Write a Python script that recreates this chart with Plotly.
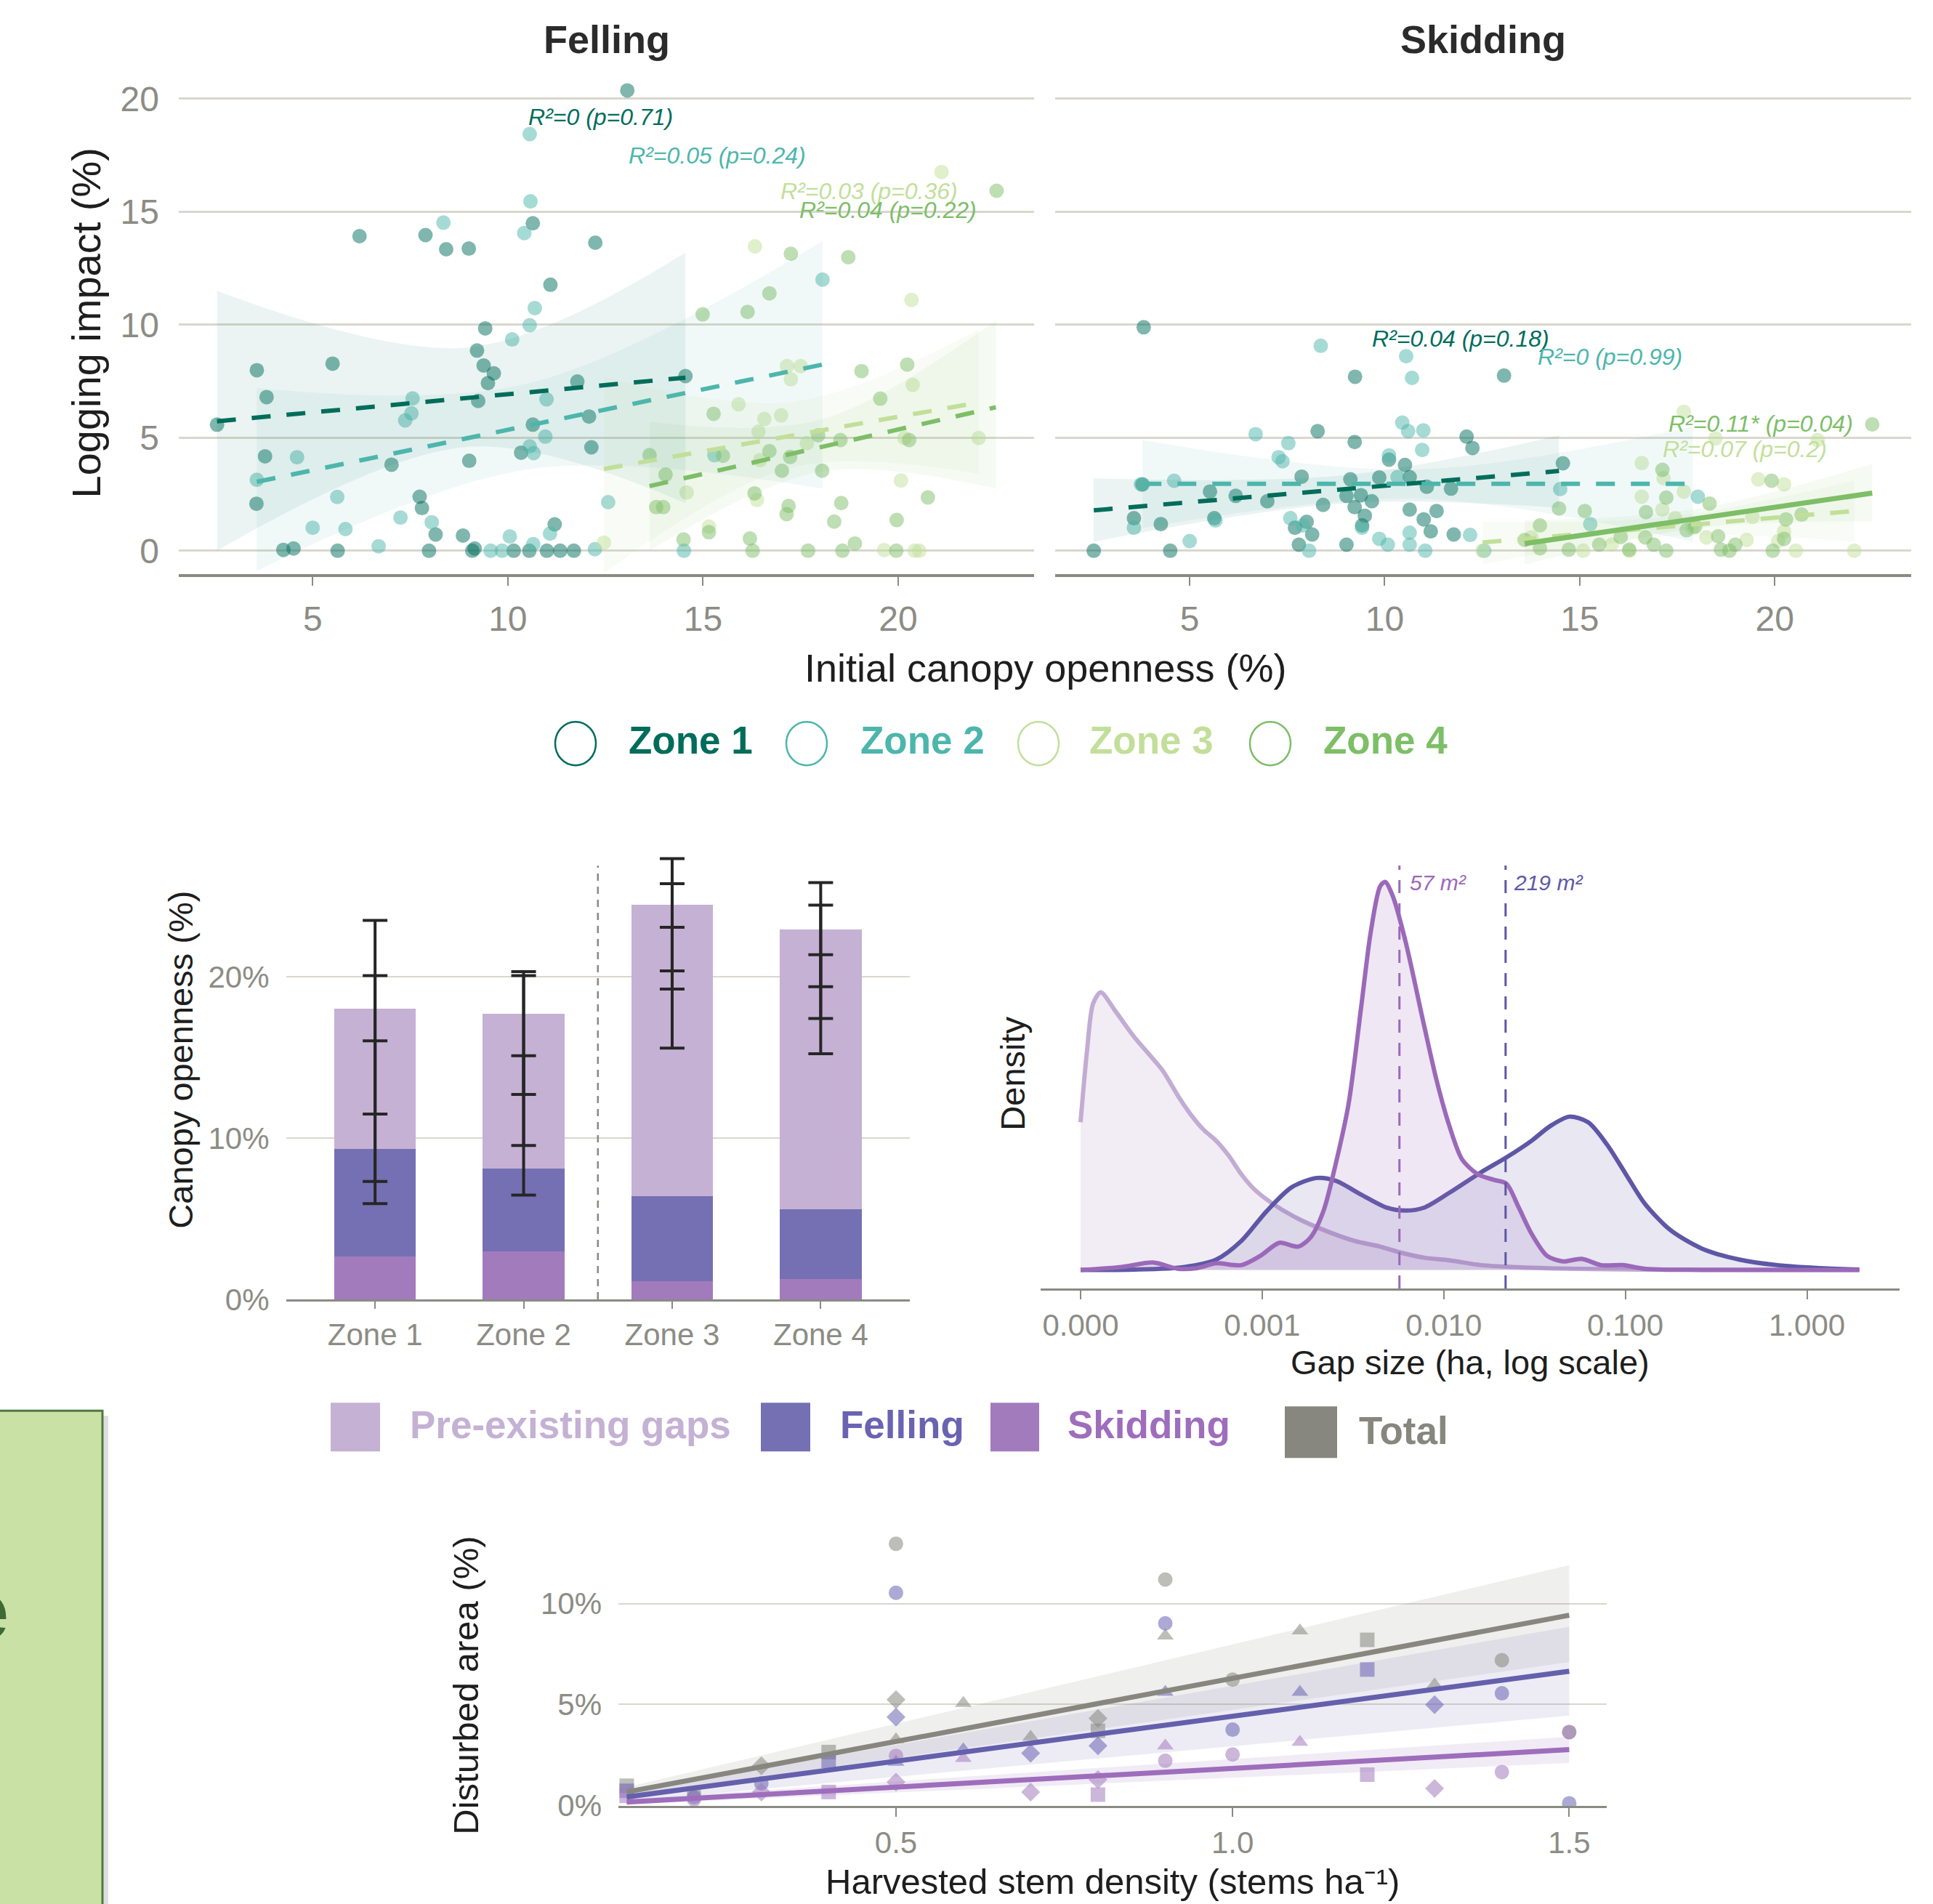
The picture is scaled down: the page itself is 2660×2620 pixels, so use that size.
import plotly.graph_objects as go

# ---------------- DATA ----------------
zone_names = ["Zone 1", "Zone 2", "Zone 3", "Zone 4"]

# Felling panel: initial canopy openness (%) vs logging impact (%)
fell_z1_x = [13.06, 6.2, 7.89, 8.42, 9.0, 10.64, 12.24, 11.09, 9.42, 9.21, 9.38, 9.64, 9.49, 9.24, 11.78, 14.55, 2.55, 3.57, 3.82, 5.51, 10.64, 12.08, 3.78, 7.02, 9.01, 10.34, 12.14, 3.56, 7.74, 7.8, 8.15, 8.85, 11.2, 4.25, 4.51, 5.64, 7.98, 9.09, 9.15, 10.15, 10.55, 11.0, 11.34, 11.69]
fell_z1_y = [20.37, 13.92, 13.97, 13.34, 13.37, 14.49, 13.63, 11.77, 9.84, 8.86, 8.2, 7.85, 7.42, 6.63, 7.49, 7.73, 5.58, 7.99, 6.8, 8.28, 5.58, 5.94, 4.18, 3.81, 3.98, 4.34, 4.58, 2.08, 2.39, 1.89, 0.72, 0.67, 1.17, 0.04, 0.1, 0.0, 0.0, 0.0, 0.1, 0.0, 0.0, 0.0, 0.0, 0.0]
fell_z2_x = [10.56, 10.58, 10.42, 8.35, 10.69, 10.56, 10.11, 7.56, 7.53, 7.37, 10.99, 10.96, 10.56, 10.66, 11.08, 10.05, 4.6, 3.57, 5.63, 5.84, 5.0, 7.25, 8.05, 6.69, 9.56, 9.85, 10.65, 12.57, 12.23, 18.06, 15.29, 14.51]
fell_z2_y = [18.44, 15.46, 14.06, 14.52, 10.74, 9.98, 9.35, 6.74, 6.08, 5.77, 6.7, 5.05, 4.62, 4.32, 0.76, 0.63, 4.14, 3.14, 2.38, 0.96, 1.02, 1.47, 1.26, 0.2, 0.0, 0.0, 0.29, 2.15, 0.07, 12.0, 4.23, 0.0]
fell_z3_x = [21.11, 16.33, 20.34, 17.15, 17.5, 17.25, 15.91, 20.37, 17.0, 16.57, 16.42, 17.66, 16.46, 14.58, 16.38, 20.07, 15.15, 22.06, 19.64, 20.54, 20.42, 12.46, 20.16]
fell_z3_y = [16.76, 13.47, 11.1, 8.17, 8.17, 7.59, 6.48, 7.34, 5.99, 5.83, 5.27, 4.76, 4.01, 2.58, 2.25, 3.11, 1.07, 4.99, 0.03, 0.0, 0.0, 0.36, 4.99]
fell_z4_x = [22.52, 17.25, 18.72, 16.7, 14.99, 16.14, 19.06, 20.23, 19.54, 15.27, 16.7, 17.23, 15.51, 14.04, 17.95, 18.52, 20.28, 17.02, 18.05, 16.32, 20.76, 17.19, 17.14, 18.54, 18.36, 19.96, 14.5, 15.15, 16.2, 16.27, 17.69, 18.57, 18.89, 19.95, 13.63, 13.8, 13.98]
fell_z4_y = [15.93, 13.14, 12.99, 11.39, 10.46, 10.57, 7.95, 8.24, 6.73, 6.06, 4.41, 4.15, 4.2, 3.37, 5.11, 4.9, 4.9, 3.54, 3.54, 2.54, 2.36, 1.98, 1.62, 2.11, 1.29, 1.36, 0.5, 0.82, 0.54, 0.0, 0.0, 0.0, 0.32, 0.0, 4.23, 1.93, 1.93]

# Skidding panel
skid_z1_x = [3.82, 9.24, 13.06, 8.28, 9.23, 12.1, 12.25, 14.57, 3.79, 5.52, 6.18, 6.99, 7.87, 9.12, 9.02, 9.39, 9.67, 9.86, 10.11, 10.52, 10.64, 11.08, 11.7, 8.42, 9.23, 9.49, 9.42, 10.64, 11.0, 11.33, 11.18, 11.77, 7.7, 8.0, 8.14, 7.8, 9.02, 3.57, 4.26, 5.63, 2.54, 4.5]
skid_z1_y = [9.89, 7.7, 7.75, 5.29, 4.81, 5.05, 4.55, 3.87, 2.94, 2.62, 2.43, 2.19, 3.28, 3.16, 2.43, 2.46, 2.19, 3.24, 4.03, 3.8, 3.26, 2.83, 2.75, 2.03, 1.93, 1.55, 1.12, 1.82, 1.39, 1.76, 0.86, 0.72, 1.02, 1.28, 0.72, 0.27, 0.27, 1.44, 1.18, 1.44, 0.0, 0.0]
skid_z2_x = [8.36, 10.55, 10.7, 6.69, 7.53, 7.28, 7.38, 10.45, 10.6, 10.99, 10.96, 10.11, 4.6, 3.75, 10.33, 14.5, 18.03, 5.0, 5.66, 3.57, 7.58, 7.9, 9.42, 9.86, 10.08, 10.64, 10.64, 8.06, 11.04, 12.19, 12.55, 15.27]
skid_z2_y = [9.07, 8.61, 7.65, 5.16, 4.76, 4.14, 3.96, 5.67, 5.29, 5.33, 4.46, 4.22, 3.1, 2.94, 3.26, 2.73, 2.39, 0.43, 1.34, 1.02, 1.44, 1.12, 1.02, 0.53, 0.27, 0.8, 0.27, 0.0, 0.0, 0.7, 0.0, 1.18]
skid_z3_x = [17.67, 18.48, 21.1, 16.59, 19.58, 20.24, 17.15, 17.67, 16.59, 17.12, 17.45, 19.43, 22.04, 20.24, 20.09, 15.82, 15.09, 12.51, 13.76, 16.27, 17.89, 20.54, 19.28, 18.25]
skid_z3_y = [6.15, 4.97, 4.9, 3.88, 3.16, 2.94, 3.21, 2.62, 2.39, 1.82, 1.44, 1.5, 0.0, 0.86, 0.43, 0.27, 0.0, 0.0, 0.59, 0.0, 1.02, 0.0, 0.48, 0.59]
skid_z4_x = [22.5, 17.12, 17.22, 18.33, 19.92, 14.47, 15.13, 16.7, 17.96, 20.69, 20.29, 13.98, 13.59, 13.98, 14.72, 15.5, 16.05, 16.27, 16.68, 16.9, 17.22, 17.74, 18.55, 18.62, 18.99, 19.95, 20.24, 18.84]
skid_z4_y = [5.59, 3.58, 2.35, 2.09, 3.1, 1.87, 1.76, 1.71, 1.07, 1.6, 1.39, 1.12, 0.48, 0.11, 0.05, 0.27, 0.61, 0.05, 0.59, 0.27, 0.0, 0.91, 0.64, 0.05, 0.27, 0.0, 0.53, 0.0]

# Fitted lines (endpoints) and CI ribbons (x, lower, upper)
fell_fit_x = [[2.55, 14.55], [3.57, 18.06], [12.46, 22.06], [13.63, 22.5]]
fell_fit_y = [[5.73, 7.66], [3.05, 8.24], [3.62, 6.56], [2.86, 6.35]]
fell_ci_x = [[2.55, 9.0, 14.55], [3.57, 10.5, 18.06], [12.46, 17.3, 22.06], [13.63, 18.0, 22.5]]
fell_ci_lo = [[0.0, 4.6, 2.1], [-0.9, 3.6, 2.75], [-1.0, 3.7, 3.4], [0.0, 3.5, 2.75]]
fell_ci_hi = [[11.5, 9.0, 13.2], [7.2, 7.4, 13.7], [7.7, 6.6, 9.8], [5.7, 5.8, 10.2]]
skid_fit_x = [[2.54, 14.47], [3.79, 17.9], [12.51, 22.04], [13.59, 22.5]]
skid_fit_y = [[1.79, 3.53], [2.96, 2.96], [0.37, 1.76], [0.32, 2.55]]
skid_ci_x = [[2.54, 9.0, 14.47], [3.79, 10.8, 17.9], [12.51, 17.3, 22.04], [13.59, 18.0, 22.5]]
skid_ci_lo = [[0.4, 2.1, 1.9], [1.0, 2.3, 0.4], [-0.6, 0.65, 0.4], [-0.6, 1.0, 1.3]]
skid_ci_hi = [[3.2, 3.35, 5.1], [4.9, 3.6, 5.5], [1.3, 1.5, 3.1], [1.34, 1.85, 3.85]]
fell_labels = ["R²=0 (p=0.71)", "R²=0.05 (p=0.24)", "R²=0.03 (p=0.36)", "R²=0.04 (p=0.22)"]
skid_labels = ["R²=0.04 (p=0.18)", "R²=0 (p=0.99)", "R²=0.07 (p=0.2)", "R²=0.11* (p=0.04)"]
fell_label_xy = [(12.37, 19.19), (15.37, 17.48), (19.26, 15.9), (19.73, 15.09)]
skid_label_xy = [(11.95, 9.39), (15.78, 8.58), (19.23, 4.5), (19.64, 5.63)]
skid_significant = [False, False, False, True]

# Bar chart: canopy openness (%) by zone
bar_skidding = [2.66, 2.96, 1.13, 1.28]
bar_felling = [6.66, 5.16, 5.29, 4.31]
bar_preexisting = [8.73, 9.62, 18.04, 17.34]
err_outer_lo = [5.94, 6.47, 15.59, 15.24]
err_outer_hi = [23.51, 20.33, 27.34, 25.86]
err_mid_lo = [7.32, 9.55, 19.25, 17.42]
err_mid_hi = [20.08, 20.08, 25.79, 24.46]
err_inner_lo = [11.50, 12.71, 20.38, 19.40]
err_inner_hi = [16.04, 15.11, 23.08, 21.38]

# Gap-size density curves (log10 gap size in ha, density)
pre_log = [-4.0, -3.965, -3.931, -3.889, -3.809, -3.705, -3.635, -3.549, -3.462, -3.392, -3.323, -3.253, -3.184, -3.115, -3.045, -2.941, -2.802, -2.663, -2.49, -2.351, -2.247, -2.108, -1.969, -1.795, -1.622, -1.274, -0.927, 0.288]
pre_dens = [3.98, 5.88, 7.18, 7.48, 6.98, 6.28, 5.88, 5.38, 4.68, 4.18, 3.78, 3.48, 3.08, 2.58, 2.18, 1.78, 1.38, 1.08, 0.78, 0.63, 0.48, 0.33, 0.26, 0.13, 0.08, 0.03, 0.01, 0.0]
fel_log = [-4.0, -3.705, -3.427, -3.253, -3.115, -2.976, -2.837, -2.698, -2.594, -2.455, -2.316, -2.212, -2.108, -1.969, -1.795, -1.656, -1.517, -1.413, -1.309, -1.205, -1.101, -0.997, -0.892, -0.753, -0.58, -0.372, -0.163, 0.115, 0.288]
fel_dens = [0.0, 0.01, 0.08, 0.28, 0.78, 1.58, 2.23, 2.48, 2.4, 2.03, 1.68, 1.6, 1.68, 2.08, 2.63, 3.03, 3.48, 3.88, 4.13, 3.98, 3.38, 2.58, 1.78, 1.08, 0.58, 0.28, 0.13, 0.04, 0.01]
ski_log = [-4.0, -3.774, -3.601, -3.462, -3.358, -3.253, -3.115, -3.01, -2.906, -2.802, -2.733, -2.663, -2.594, -2.524, -2.455, -2.403, -2.351, -2.323, -2.281, -2.212, -2.108, -2.038, -1.969, -1.899, -1.813, -1.726, -1.656, -1.587, -1.517, -1.431, -1.344, -1.24, -1.135, -1.014, -0.892, -0.58, 0.288]
ski_dens = [0.0, 0.08, 0.2, 0.03, 0.05, 0.18, 0.13, 0.38, 0.73, 0.63, 0.88, 1.58, 2.88, 4.48, 7.08, 9.08, 10.33, 10.46, 10.08, 8.88, 6.58, 5.08, 3.88, 2.98, 2.58, 2.43, 2.33, 1.68, 0.98, 0.38, 0.23, 0.3, 0.13, 0.13, 0.03, 0.0, 0.0]
median_skidding_ha = 0.0057
median_felling_ha = 0.0219
median_labels = ["57 m²", "219 m²"]

# Disturbed area vs harvested stem density
tot_x = [0.5, 0.9, 0.9, 1.1, 1.2, 1.4, 1.0, 1.3, 0.5, 0.6, 0.8, 0.8, 0.5, 0.7, 0.4, 0.3, 0.2, 0.1, 1.5]
tot_y = [12.96, 11.19, 8.4, 8.65, 8.2, 7.19, 6.23, 5.98, 5.24, 5.06, 4.31, 3.69, 3.26, 3.38, 2.64, 1.96, 0.6, 0.97, 3.63]
tot_site = ["A", "A", "B", "B", "C", "A", "A", "B", "D", "B", "D", "C", "B", "B", "C", "D", "A", "C", "A"]
fel_x = [0.5, 0.9, 0.9, 1.1, 1.2, 1.4, 1.3, 0.5, 1.0, 0.8, 0.7, 0.6, 0.5, 0.4, 0.3, 0.2, 0.1, 1.5]
fel_y = [10.53, 9.02, 5.61, 5.61, 6.73, 5.55, 4.99, 4.37, 3.75, 2.95, 2.58, 2.76, 2.14, 2.2, 1.09, 0.4, 0.72, 0.1]
fel_site = ["A", "A", "B", "B", "C", "A", "D", "D", "A", "D", "D", "B", "B", "C", "A", "A", "C", "A"]
ski_x = [0.9, 1.1, 1.0, 0.9, 1.4, 1.2, 0.5, 0.5, 0.6, 0.8, 0.7, 0.8, 1.3, 0.4, 0.3, 0.2, 0.1, 1.5]
ski_y = [2.95, 3.13, 2.52, 2.21, 1.65, 1.52, 1.15, 2.45, 2.33, 1.28, 0.66, 0.53, 0.84, 0.66, 0.66, 0.3, 0.47, 3.63]
ski_site = ["B", "B", "A", "A", "A", "C", "D", "A", "B", "D", "D", "C", "D", "C", "D", "A", "C", "A"]
dist_fit_x = [0.1, 1.5]
tot_fit = [0.66, 9.42]
fel_fit = [0.41, 6.64]
ski_fit = [0.16, 2.76]
tot_ci_lo, tot_ci_hi = [0.45, 7.1], [0.9, 11.9]
fel_ci_lo, fel_ci_hi = [0.2, 4.45], [0.65, 8.85]
ski_ci_lo, ski_ci_hi = [0.05, 2.1], [0.3, 3.4]

# ---------------- STYLE ----------------
REF_W, REF_H = 2660, 2620
FIG_W, FIG_H = 2660, 2647      # page is photographed slightly taller than the window, then fitted
def px(x): return x / REF_W
def py(y): return 1 - y / REF_H

FONT = "Liberation Sans, Arial, sans-serif"
TICK_GRAY = "#8C8C85"
AXIS_GRAY = "#8A8A84"
GRID = "#D9D7CE"
DARK = "#1E1E1E"
zone_colors = ["#006D5B", "#4DB6AC", "#C2DF9A", "#7DBE67"]
band_alpha = [0.08, 0.08, 0.09, 0.08]
c_pre, c_fel, c_ski, c_tot = "#C5B1D4", "#7570B3", "#A27BBD", "#87877F"
d_pre, d_fel, d_ski = "#C3ACD3", "#5E57A6", "#9B69B9"
sym = {"A": "circle", "B": "triangle-up", "C": "square", "D": "diamond"}

def rgba(hexc, a):
    h = hexc.lstrip("#")
    r, g, b = int(h[0:2], 16), int(h[2:4], 16), int(h[4:6], 16)
    return f"rgba({r},{g},{b},{a})"

fig = go.Figure()

# ---------------- TOP PANELS ----------------
panels = [
    ("x", "y", [(fell_z1_x, fell_z1_y), (fell_z2_x, fell_z2_y), (fell_z3_x, fell_z3_y), (fell_z4_x, fell_z4_y)],
     fell_fit_x, fell_fit_y, fell_ci_x, fell_ci_lo, fell_ci_hi, [False] * 4),
    ("x2", "y2", [(skid_z1_x, skid_z1_y), (skid_z2_x, skid_z2_y), (skid_z3_x, skid_z3_y), (skid_z4_x, skid_z4_y)],
     skid_fit_x, skid_fit_y, skid_ci_x, skid_ci_lo, skid_ci_hi, skid_significant),
]
for xa, ya, pts, fx, fy, cx, clo, chi, sig in panels:
    for i, (xs, ys) in enumerate(pts):
        fig.add_trace(go.Scatter(x=xs, y=ys, mode="markers", xaxis=xa, yaxis=ya,
                                 marker=dict(size=20, color=zone_colors[i], opacity=0.5, line=dict(width=0)),
                                 hoverinfo="skip"))
    for i in range(4):
        fig.add_trace(go.Scatter(x=cx[i], y=clo[i], mode="lines", xaxis=xa, yaxis=ya,
                                 line=dict(width=0, shape="spline", color="rgba(0,0,0,0)"), hoverinfo="skip"))
        fig.add_trace(go.Scatter(x=cx[i], y=chi[i], mode="lines", xaxis=xa, yaxis=ya, fill="tonexty",
                                 fillcolor=rgba(zone_colors[i], band_alpha[i]),
                                 line=dict(width=0, shape="spline", color="rgba(0,0,0,0)"), hoverinfo="skip"))
    for i in range(4):
        fig.add_trace(go.Scatter(x=fx[i], y=fy[i], mode="lines", xaxis=xa, yaxis=ya,
                                 line=dict(color=zone_colors[i], width=7 if sig[i] else 6,
                                           dash="solid" if sig[i] else "26px,22px"),
                                 hoverinfo="skip"))

# ---------------- BAR CHART ----------------
for vals, col in [(bar_skidding, c_ski), (bar_felling, c_fel), (bar_preexisting, c_pre)]:
    fig.add_trace(go.Bar(x=zone_names, y=vals, marker=dict(color=col, line=dict(width=0)), width=0.55,
                         xaxis="x3", yaxis="y3", hoverinfo="skip"))
for lo, hi in [(err_outer_lo, err_outer_hi), (err_mid_lo, err_mid_hi), (err_inner_lo, err_inner_hi)]:
    mid = [(a + b) / 2 for a, b in zip(lo, hi)]
    fig.add_trace(go.Scatter(x=zone_names, y=mid, mode="markers", xaxis="x3", yaxis="y3",
                             marker=dict(size=1, color="rgba(0,0,0,0)"),
                             error_y=dict(type="data", symmetric=False,
                                          array=[h - m for h, m in zip(hi, mid)],
                                          arrayminus=[m - l for m, l in zip(mid, lo)],
                                          color="#262626", thickness=4, width=17),
                             hoverinfo="skip"))

# ---------------- DENSITY ----------------
for lg, dn, col, fa in [(pre_log, pre_dens, d_pre, 0.22), (fel_log, fel_dens, d_fel, 0.14), (ski_log, ski_dens, d_ski, 0.16)]:
    fig.add_trace(go.Scatter(x=[10 ** v for v in lg], y=dn, mode="lines", fill="tozeroy",
                             fillcolor=rgba(col, fa), line=dict(color=col, width=6, shape="spline", smoothing=0.8),
                             xaxis="x4", yaxis="y4", hoverinfo="skip"))
for m, col in [(median_skidding_ha, d_ski), (median_felling_ha, d_fel)]:
    fig.add_trace(go.Scatter(x=[m, m], y=[-0.5, 10.9], mode="lines", xaxis="x4", yaxis="y4",
                             line=dict(color=col, width=3, dash="18px,14px"), hoverinfo="skip"))

# ---------------- DISTURBED AREA ----------------
for lo, hi, col, a in [(tot_ci_lo, tot_ci_hi, c_tot, 0.13), (fel_ci_lo, fel_ci_hi, c_fel, 0.13), (ski_ci_lo, ski_ci_hi, c_ski, 0.15)]:
    fig.add_trace(go.Scatter(x=dist_fit_x, y=lo, mode="lines", xaxis="x5", yaxis="y5",
                             line=dict(width=0, color="rgba(0,0,0,0)"), hoverinfo="skip"))
    fig.add_trace(go.Scatter(x=dist_fit_x, y=hi, mode="lines", xaxis="x5", yaxis="y5", fill="tonexty",
                             fillcolor=rgba(col, a), line=dict(width=0, color="rgba(0,0,0,0)"), hoverinfo="skip"))
for xs, ys, st, col in [(tot_x, tot_y, tot_site, c_tot), (fel_x, fel_y, fel_site, "#6A63B2"), (ski_x, ski_y, ski_site, c_ski)]:
    fig.add_trace(go.Scatter(x=xs, y=ys, mode="markers", xaxis="x5", yaxis="y5",
                             marker=dict(size=20, color=col, opacity=0.55, symbol=[sym[s] for s in st], line=dict(width=0)),
                             hoverinfo="skip"))
for ys, col in [(tot_fit, c_tot), (fel_fit, "#6460AC"), (ski_fit, "#9E6DBC")]:
    fig.add_trace(go.Scatter(x=dist_fit_x, y=ys, mode="lines", xaxis="x5", yaxis="y5",
                             line=dict(color=col, width=7), hoverinfo="skip"))

# ---------------- AXES ----------------
tf = lambda s: dict(family=FONT, size=s, color=TICK_GRAY)
xcommon = dict(showgrid=False, zeroline=False, showline=True, linecolor=AXIS_GRAY, ticks="outside",
               tickcolor=AXIS_GRAY, tickwidth=2)
ycommon = dict(zeroline=False, showline=False, ticks="", gridcolor=GRID)

top_y_dom = [py(789), py(95.4)]
fig.update_layout(
    xaxis=dict(domain=[px(246), px(1423)], range=[1.57, 23.48], anchor="y", tickvals=[5, 10, 15, 20],
               ticklen=12, linewidth=4, tickfont=tf(48), ticklabelstandoff=4, **xcommon),
    yaxis=dict(domain=top_y_dom, range=[-1.03, 21.3], anchor="x", tickvals=[0, 5, 10, 15, 20],
               showgrid=True, gridwidth=3, tickfont=tf(48), ticklabelstandoff=26, **ycommon),
    xaxis2=dict(domain=[px(1452), px(2630)], range=[1.55, 23.5], anchor="y2", tickvals=[5, 10, 15, 20],
                ticklen=12, linewidth=4, tickfont=tf(48), ticklabelstandoff=4, **xcommon),
    yaxis2=dict(domain=top_y_dom, range=[-1.03, 21.3], anchor="x2", tickvals=[0, 5, 10, 15, 20],
                showgrid=True, gridwidth=3, showticklabels=False, **ycommon),
    xaxis3=dict(domain=[px(393.5), px(1252)], type="category", range=[-0.6, 3.6], anchor="y3",
                ticklen=10, linewidth=3, tickfont=tf(42), ticklabelstandoff=0, **xcommon),
    yaxis3=dict(domain=[py(1786), py(1170)], range=[0, 27.8], anchor="x3", tickvals=[0, 10, 20],
                ticktext=["0%", "10%", "20%"], showgrid=True, gridwidth=2, tickfont=tf(42),
                ticklabelstandoff=22, **ycommon),
    xaxis4=dict(domain=[px(1432), px(2614)], type="log", range=[-4.22, 0.51], anchor="y4",
                tickvals=[0.0001, 0.001, 0.01, 0.1, 1], ticktext=["0.000", "0.001", "0.010", "0.100", "1.000"],
                ticklen=12, linewidth=3, tickfont=tf(42), ticklabelstandoff=0, **xcommon),
    yaxis4=dict(domain=[py(1771), py(1189.6)], range=[-0.5, 10.9], anchor="x4", showgrid=False,
                showticklabels=False, **ycommon),
    xaxis5=dict(domain=[px(851), px(2211)], range=[0.0877, 1.5557], anchor="y5", tickvals=[0.5, 1.0, 1.5],
                ticktext=["0.5", "1.0", "1.5"], ticklen=12, linewidth=3, tickfont=tf(42), ticklabelstandoff=0,
                **xcommon),
    yaxis5=dict(domain=[py(2482.2), py(2098.6)], range=[-0.03, 13.8], anchor="x5", tickvals=[0, 5, 10],
                ticktext=["0%", "5%", "10%"], showgrid=True, gridwidth=2, tickfont=tf(42),
                ticklabelstandoff=22, **ycommon),
)

# ---------------- SHAPES ----------------
shapes = []
shapes.append(dict(type="rect", xref="paper", yref="paper", x0=px(-20), x1=px(149), y0=py(2700), y1=py(1946),
                   fillcolor="rgba(0,0,0,0.13)", line=dict(width=0), layer="below"))
shapes.append(dict(type="rect", xref="paper", yref="paper", x0=px(-20), x1=px(141), y0=py(2700), y1=py(1939),
                   fillcolor="#CAE1A6", line=dict(color="#4E7A3E", width=3), layer="below"))
for cxp, col in zip([792, 1110, 1429, 1748], zone_colors):
    shapes.append(dict(type="circle", xref="paper", yref="paper", x0=px(cxp - 28), x1=px(cxp + 28),
                       y0=py(1052), y1=py(992), line=dict(color=col, width=2.5), fillcolor="rgba(0,0,0,0)"))
for x0, x1, y0, y1, col in [(455, 523, 1928, 1995, c_pre), (1047, 1115, 1928, 1995, c_fel),
                            (1363, 1430, 1928, 1995, c_ski), (1768, 1840, 1933, 2004, c_tot)]:
    shapes.append(dict(type="rect", xref="paper", yref="paper", x0=px(x0), x1=px(x1), y0=py(y1), y1=py(y0),
                       fillcolor=col, line=dict(width=0)))
shapes.append(dict(type="line", xref="x3", yref="y3", x0=1.5, x1=1.5, y0=0, y1=26.9,
                   line=dict(color="#8A8A84", width=2.5, dash="10px,8px")))

# ---------------- ANNOTATIONS ----------------
anns = []
def ann(text, x, y, size, color, xanchor="center", yanchor="middle", angle=0, xref="paper", yref="paper", paper=True):
    anns.append(dict(text=text, x=px(x) if paper else x, y=py(y) if paper else y, xref=xref, yref=yref,
                     showarrow=False, xanchor=xanchor, yanchor=yanchor, textangle=angle,
                     font=dict(family=FONT, size=size, color=color)))

ann("<b>Felling</b>", 834.5, 54, 54, "#2B2B2B")
ann("<b>Skidding</b>", 2041, 54, 54, "#2B2B2B")
ann("Logging impact (%)", 119, 444, 56, DARK, angle=-90)
ann("Initial canopy openness (%)", 1438, 918, 54, DARK)
for tx, name, col in zip([863, 1182, 1497, 1819], zone_names, zone_colors):
    ann(f"<b>{name}</b>", tx, 1017, 53, col, xanchor="left")
for i in range(4):
    ann(f"<i>{fell_labels[i]}</i>", fell_label_xy[i][0], fell_label_xy[i][1], 32, zone_colors[i],
        xref="x", yref="y", paper=False)
    ann(f"<i>{skid_labels[i]}</i>", skid_label_xy[i][0], skid_label_xy[i][1], 32, zone_colors[i],
        xref="x2", yref="y2", paper=False)
ann("Canopy openness (%)", 249, 1457, 47, DARK, angle=-90)
ann("Density", 1394, 1476, 47, DARK, angle=-90)
ann("Gap size (ha, log scale)", 2023, 1872, 47, DARK)
ann(f"<i>{median_labels[0]}</i>", 1938, 1213, 30, d_ski, xanchor="left")
ann(f"<i>{median_labels[1]}</i>", 2081, 1213, 30, d_fel, xanchor="left")
for tx, ty, label, col in [(562, 1958, "Pre-existing gaps", c_pre), (1154, 1958, "Felling", "#6A63B2"),
                           (1467, 1958, "Skidding", "#9E6DBC"), (1868, 1966, "Total", c_tot)]:
    ann(f"<b>{label}</b>", tx, ty, 53, col, xanchor="left")
ann("Disturbed area (%)", 641, 2317, 49, DARK, angle=-90)
ann("Harvested stem density (stems ha⁻¹)", 1531, 2586, 49, DARK)
ann("<b>e</b>", 14, 2214, 112, "#3E6B33", xanchor="right")

fig.update_layout(
    width=FIG_W, height=FIG_H, margin=dict(l=0, r=0, t=0, b=0), autosize=False,
    plot_bgcolor="white", paper_bgcolor="white", showlegend=False, barmode="stack",
    font=dict(family=FONT), shapes=shapes, annotations=anns,
)

fig.write_html(
    "out.html",
    config={"displayModeBar": False},
    post_script="document.body.style.margin='0';document.body.style.overflow='hidden';"
                "document.documentElement.style.overflow='hidden';",
)
